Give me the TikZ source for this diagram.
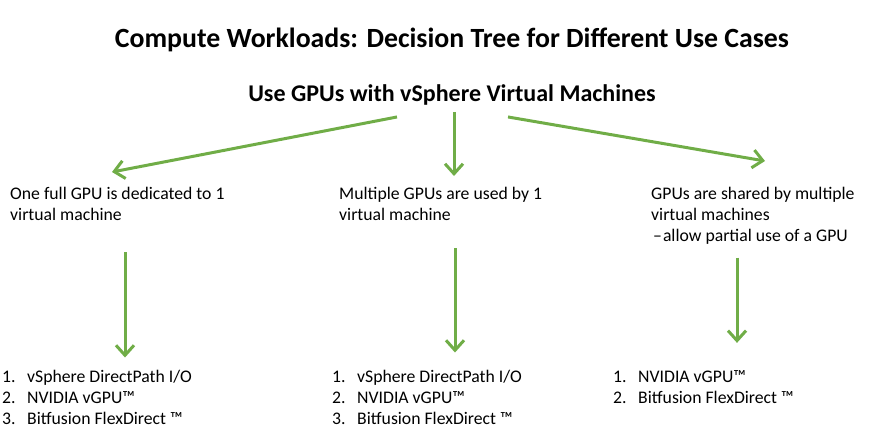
\documentclass[tikz,border=0pt]{standalone}
\usepackage{fontspec}
\setmainfont{Carlito}
\usetikzlibrary{positioning,arrows.meta}
\definecolor{vgreen}{RGB}{112,173,71}

\newcommand{\itemno}[1]{\makebox[25pt][l]{#1}}

\begin{document}
\begin{tikzpicture}[x=1pt,y=-1pt,>={Straight Barb[length=10pt,width=18pt]},
    link/.style={->,draw=vgreen,line width=3pt},
    title node/.style={anchor=base,inner sep=0pt,font=\bfseries\fontsize{27.8}{32}\selectfont},
    case node/.style={anchor=base west,align=left,inner sep=0pt,font=\fontsize{17.7}{21}\selectfont}]

\useasboundingbox (0,0) rectangle (877,443);

% headings
\node[title node]                             (title)  at (452,48)  {Compute Workloads: Decision Tree for Different Use Cases};
\node[title node,font=\bfseries\fontsize{24}{28}\selectfont] (root) at (452,102) {Use GPUs with vSphere Virtual Machines};

% use cases (base = last line)
\node[case node] (full)   at (10,221)  {One full GPU is dedicated to 1\\virtual machine};
\node[case node] (multi)  at (339,221) {Multiple GPUs are used by 1\\virtual machine};
\node[case node] (shared) at (651,242) {GPUs are shared by multiple\\virtual machines\\\hspace{2pt}--\hspace{1pt}allow partial use of a GPU};

% solutions
\node[case node] (fulllist)   at (2,424)   {\itemno{1.}vSphere DirectPath I/O\\\itemno{2.}NVIDIA vGPU™\\\itemno{3.}Bitfusion FlexDirect ™};
\node[case node] (multilist)  at (332,424) {\itemno{1.}vSphere DirectPath I/O\\\itemno{2.}NVIDIA vGPU™\\\itemno{3.}Bitfusion FlexDirect ™};
\node[case node] (sharedlist) at (613,403) {\itemno{1.}NVIDIA vGPU™\\\itemno{2.}Bitfusion FlexDirect ™};

\coordinate (fullout)   at ([xshift=115pt,yshift=-31pt]full.south west);
\coordinate (multiout)  at ([xshift=116pt,yshift=-27pt]multi.south west);
\coordinate (sharedout) at ([xshift=86pt,yshift=-12.5pt]shared.south west);

\path ([xshift=-55pt,yshift=-11pt]root.south) edge[link] ([xshift=102pt,yshift=15.5pt]full.north west)
      ([xshift=2pt,yshift=-6pt]root.south)    edge[link] ([xshift=2pt,yshift=11.5pt]root.south |- multi.north)
      ([xshift=56pt,yshift=-11pt]root.south)  edge[link] ([xshift=114pt,yshift=26.5pt]shared.north west);
\path (fullout)   edge[link] ([yshift=12pt]fullout |- fulllist.north)
      (multiout)  edge[link] ([yshift=17pt]multiout |- multilist.north)
      (sharedout) edge[link] ([yshift=27pt]sharedout |- sharedlist.north);
\end{tikzpicture}
\end{document}
